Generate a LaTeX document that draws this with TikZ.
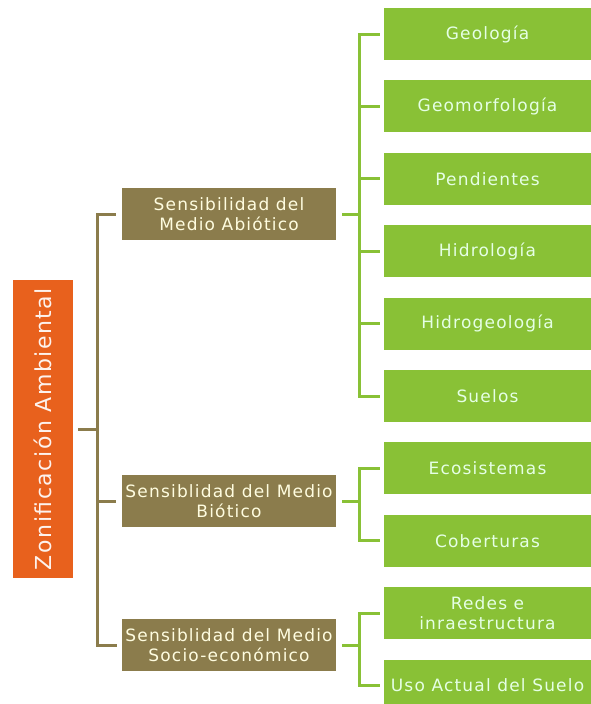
\documentclass[tikz,border=0pt]{standalone}
\usepackage{fontspec}
\setmainfont{DejaVu Sans}[LetterSpace=7]
\usepackage{tikz}
\usetikzlibrary{positioning}
\definecolor{zonaorange}{HTML}{E8611D}
\definecolor{mediobrown}{HTML}{8B7C4C}
\definecolor{temagreen}{HTML}{89C136}

\begin{document}
\begin{tikzpicture}[x=1pt, y=-1pt, align=center, node distance=20pt,
    zona/.style={fill=zonaorange, text=white!92!zonaorange, rotate=90, minimum width=298pt, minimum height=60pt, inner sep=0, font=\fontsize{22}{26}\selectfont},
    medio/.style={fill=mediobrown, text=white!88!yellow, minimum width=214pt, minimum height=52pt, inner sep=0, font=\fontsize{17}{20}\selectfont},
    tema/.style={fill=temagreen, text=white!90!green, minimum width=207pt, minimum height=52pt, inner sep=0, font=\fontsize{17}{20}\selectfont},
    medioline/.style={draw=mediobrown, line width=3pt},
    temaline/.style={draw=temagreen, line width=3pt}]

\useasboundingbox (0,0) rectangle (591,704);

\draw
    (43,429) node [zona, name=zonificacion] {Zonificación Ambiental}
    (229,214) node [medio, name=abiotico] {Sensibilidad del\\Medio Abiótico}
    (229,501) node [medio, name=biotico] {Sensiblidad del Medio\\Biótico}
    (229,645) node [medio, name=socio] {Sensiblidad del Medio\\Socio-económico}
;

\draw
    (487.5,34) node [tema, name=geologia] {Geología}
    node [tema, below=of geologia, name=geomorfologia] {Geomorfología}
    node [tema, below=of geomorfologia, name=pendientes] {Pendientes}
    node [tema, below=of pendientes, name=hidrologia] {Hidrología}
    node [tema, below=of hidrologia, name=hidrogeologia] {Hidrogeología}
    node [tema, below=of hidrogeologia, name=suelos] {Suelos}
    node [tema, below=of suelos, name=ecosistemas] {Ecosistemas}
    node [tema, below=of ecosistemas, name=coberturas] {Coberturas}
    node [tema, below=of coberturas, name=redes] {Redes e\\inraestructura}
    node [tema, below=of redes, name=uso] {Uso Actual del Suelo}
;

\coordinate (p1) at (97,429);
\coordinate (p2) at (359,214);

\draw[medioline, shorten <=5pt] (zonificacion.south) -- (p1);
\draw[medioline, shorten <=6pt, shorten >=5pt] (abiotico.west) -- (p1 |- abiotico) -- (p1 |- socio) -- (socio.west);
\draw[medioline, shorten >=6pt] (p1 |- biotico) -- (biotico.west);

\draw[temaline, shorten <=6pt] (abiotico.east) -- (p2 |- abiotico);
\draw[temaline, shorten <=4pt, shorten >=4pt] (geologia.west) -- (p2 |- geologia) -- (p2 |- suelos) -- (suelos.west);
\foreach \tema in {geomorfologia, pendientes, hidrologia, hidrogeologia}
    \draw[temaline, shorten >=4pt] (p2 |- \tema) -- (\tema.west);

\draw[temaline, shorten <=6pt] (biotico.east) -- (p2 |- biotico);
\draw[temaline, shorten <=4pt, shorten >=4pt] (ecosistemas.west) -- (p2 |- ecosistemas) -- (p2 |- coberturas) -- (coberturas.west);

\draw[temaline, shorten <=6pt] (socio.east) -- (p2 |- socio);
\draw[temaline, shorten <=4pt, shorten >=4pt] (redes.west) -- (p2 |- redes) -- (p2 |- uso) -- (uso.west);

\end{tikzpicture}
\end{document}
